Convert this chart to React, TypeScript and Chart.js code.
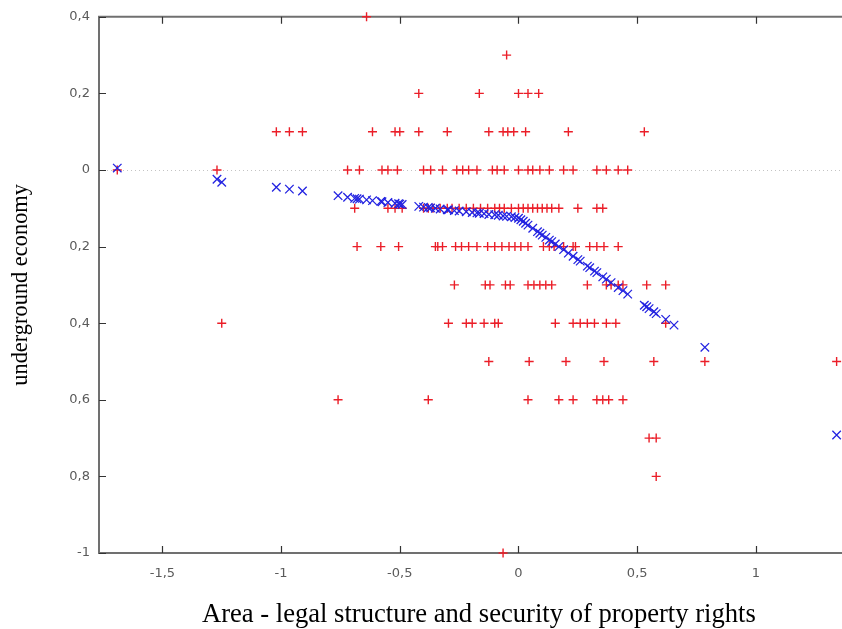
import React, { useEffect, useRef } from "react";
import { Chart, registerables } from "chart.js";

Chart.register(...registerables);

// Axis ticks
const xTickValues = [-1.5, -1, -0.5, 0, 0.5, 1];
const xTickLabels = ["-1,5", "-1", "-0,5", "0", "0,5", "1"];
const yTickValues = [-1, -0.8, -0.6, -0.4, -0.2, 0, 0.2, 0.4];
const yTickLabels = ["-1", "0,8", "0,6", "0,4", "0,2", "0", "0,2", "0,4"];

const xTitle = "Area - legal structure and security of property rights";
const yTitle = "underground economy";

// Observed values (red +): x positions grouped by underground-economy level
const obsLevels = [0.4, 0.3, 0.2, 0.1, 0, -0.1, -0.2, -0.3, -0.4, -0.5, -0.6, -0.7, -0.8, -1];
const obsAtP04 = [-0.64];
const obsAtP03 = [-0.05];
const obsAtP02 = [-0.42, -0.165, 0.0, 0.04, 0.085];
const obsAtP01 = [-1.02, -0.965, -0.91, -0.615, -0.52, -0.5, -0.42, -0.3, -0.125, -0.065, -0.045, -0.02, 0.03, 0.21, 0.53];
const obsAt0 = [-1.69, -1.27, -0.72, -0.67, -0.575, -0.55, -0.51, -0.4, -0.37, -0.32, -0.26, -0.235, -0.21, -0.175, -0.11, -0.09, -0.06, 0.0, 0.04, 0.06, 0.09, 0.13, 0.19, 0.23, 0.33, 0.37, 0.42, 0.46];
const obsAtM01 = [-0.69, -0.55, -0.52, -0.49, -0.4, -0.38, -0.36, -0.33, -0.3, -0.28, -0.25, -0.22, -0.19, -0.16, -0.13, -0.1, -0.08, -0.06, -0.03, 0.0, 0.02, 0.04, 0.06, 0.08, 0.1, 0.12, 0.14, 0.17, 0.25, 0.33, 0.355];
const obsAtM02 = [-0.68, -0.58, -0.505, -0.35, -0.34, -0.32, -0.265, -0.24, -0.21, -0.175, -0.13, -0.1, -0.07, -0.04, -0.015, 0.01, 0.04, 0.105, 0.13, 0.15, 0.19, 0.23, 0.24, 0.3, 0.33, 0.36, 0.42];
const obsAtM03 = [-0.27, -0.14, -0.12, -0.055, -0.035, 0.04, 0.065, 0.09, 0.115, 0.14, 0.29, 0.37, 0.39, 0.42, 0.44, 0.54, 0.62];
const obsAtM04 = [-1.25, -0.295, -0.22, -0.195, -0.145, -0.1, -0.085, 0.155, 0.23, 0.26, 0.29, 0.32, 0.37, 0.41, 0.62];
const obsAtM05 = [-0.125, 0.045, 0.2, 0.36, 0.57, 0.785, 1.34];
const obsAtM06 = [-0.76, -0.38, 0.04, 0.17, 0.23, 0.33, 0.355, 0.38, 0.44];
const obsAtM07 = [0.55, 0.58];
const obsAtM08 = [0.58];
const obsAtM10 = [-0.065];

const obsGroups = [
  obsAtP04, obsAtP03, obsAtP02, obsAtP01, obsAt0, obsAtM01, obsAtM02,
  obsAtM03, obsAtM04, obsAtM05, obsAtM06, obsAtM07, obsAtM08, obsAtM10,
];

// Fitted values (blue x)
const fitX = [
  -1.69, -1.27, -1.25, -1.02, -0.965, -0.91, -0.76, -0.72, -0.69, -0.68, -0.67, -0.64, -0.615,
  -0.58, -0.575, -0.55, -0.52, -0.505, -0.5, -0.49, -0.42, -0.4, -0.38, -0.37, -0.35, -0.33,
  -0.3, -0.295, -0.27, -0.25, -0.22, -0.195, -0.175, -0.165, -0.145, -0.125, -0.1, -0.085,
  -0.065, -0.05, -0.03, -0.015, 0.0, 0.01, 0.02, 0.03, 0.04, 0.06, 0.08, 0.09, 0.1, 0.115,
  0.13, 0.14, 0.155, 0.17, 0.19, 0.21, 0.23, 0.25, 0.26, 0.29, 0.3, 0.32, 0.33, 0.355, 0.37,
  0.39, 0.42, 0.44, 0.46, 0.53, 0.54, 0.55, 0.57, 0.58, 0.62, 0.655, 0.785, 1.34,
];
const fitY = [
  0.005, -0.024, -0.032, -0.045, -0.05, -0.055, -0.067, -0.071, -0.074, -0.075, -0.076, -0.078, -0.08,
  -0.082, -0.083, -0.085, -0.087, -0.088, -0.089, -0.09, -0.095, -0.097, -0.098, -0.099, -0.1, -0.102,
  -0.104, -0.104, -0.106, -0.107, -0.109, -0.111, -0.112, -0.113, -0.114, -0.116, -0.117, -0.118,
  -0.12, -0.121, -0.122, -0.124, -0.126, -0.13, -0.134, -0.139, -0.144, -0.152, -0.161, -0.165, -0.17, -0.176,
  -0.183, -0.187, -0.193, -0.2, -0.208, -0.217, -0.225, -0.234, -0.238, -0.251, -0.255, -0.264, -0.268, -0.279, -0.285,
  -0.294, -0.307, -0.315, -0.324, -0.353, -0.357, -0.362, -0.37, -0.375, -0.39, -0.405, -0.463, -0.692,
];

const X_MIN = -1.767;
const X_MAX = 1.433;
const Y_MIN = -1;
const Y_MAX = 0.4;

function labelFor(values: number[], labels: string[], v: number) {
  for (let i = 0; i < values.length; i++) {
    if (Math.abs(values[i] - v) < 1e-6) return labels[i];
  }
  return "";
}

const framePlugin = {
  id: "gnuFrame",
  beforeDatasetsDraw(chart: any) {
    const { ctx, chartArea } = chart;
    const { left, right, top, bottom } = chartArea;
    const xs = chart.scales.x;
    const ys = chart.scales.y;
    ctx.save();
    // zero axis (dotted)
    const y0 = Math.round(ys.getPixelForValue(0)) + 0.5;
    ctx.strokeStyle = "#c4c4c4";
    ctx.lineWidth = 1;
    ctx.setLineDash([1, 3]);
    ctx.beginPath();
    ctx.moveTo(left, y0);
    ctx.lineTo(right, y0);
    ctx.stroke();
    ctx.setLineDash([]);
    // top border
    ctx.strokeStyle = "#707070";
    ctx.lineWidth = 2;
    ctx.beginPath();
    ctx.moveTo(left - 1, top);
    ctx.lineTo(right, top);
    ctx.stroke();
    // inward tick marks
    ctx.strokeStyle = "#333333";
    ctx.lineWidth = 1.2;
    ctx.beginPath();
    xs.ticks.forEach((t: any) => {
      const px = Math.round(xs.getPixelForValue(t.value)) + 0.5;
      ctx.moveTo(px, bottom);
      ctx.lineTo(px, bottom - 7);
      ctx.moveTo(px, top);
      ctx.lineTo(px, top + 7);
    });
    ys.ticks.forEach((t: any) => {
      const py = Math.round(ys.getPixelForValue(t.value)) + 0.5;
      ctx.moveTo(left, py);
      ctx.lineTo(left + 7, py);
    });
    ctx.stroke();
    ctx.restore();
  },
};

export default function App() {
  const canvasRef = useRef<HTMLCanvasElement | null>(null);

  useEffect(() => {
    const canvas = canvasRef.current;
    if (!canvas) return;

    const obsData: { x: number; y: number }[] = [];
    obsGroups.forEach((group, gi) => {
      group.forEach((xv) => obsData.push({ x: xv, y: obsLevels[gi] }));
    });
    const fitData = fitX.map((xv, i) => ({ x: xv, y: fitY[i] }));

    const tickFont = { family: "'DejaVu Sans', Verdana, sans-serif", size: 13 };

    const chart = new Chart(canvas, {
      type: "scatter",
      data: {
        datasets: [
          {
            label: "fitted",
            data: fitData,
            pointStyle: "crossRot",
            pointRadius: 6,
            pointHoverRadius: 6,
            borderColor: "rgb(35,35,225)",
            backgroundColor: "rgb(35,35,225)",
            pointBorderWidth: 1.3,
            clip: false as any,
            order: 1,
          },
          {
            label: "observed",
            data: obsData,
            pointStyle: "cross",
            pointRadius: 4.5,
            pointHoverRadius: 4.5,
            borderColor: "rgb(235,30,40)",
            backgroundColor: "rgb(235,30,40)",
            pointBorderWidth: 1.4,
            clip: false as any,
            order: 2,
          },
        ],
      },
      options: {
        animation: false,
        responsive: false,
        devicePixelRatio: 1,
        layout: { padding: { top: 16, right: 0, bottom: 0, left: 0 } },
        plugins: {
          legend: { display: false },
          tooltip: { enabled: false },
        },
        scales: {
          x: {
            type: "linear",
            min: X_MIN,
            max: X_MAX,
            grid: { display: false, drawTicks: false },
            border: { display: true, color: "#707070", width: 2 },
            ticks: {
              stepSize: 0.5,
              includeBounds: false,
              autoSkip: false,
              maxRotation: 0,
              padding: 12.5,
              color: "#5a5a5a",
              font: tickFont,
              callback: (v: any) => labelFor(xTickValues, xTickLabels, Number(v)),
            },
            title: {
              display: true,
              text: xTitle,
              color: "#000",
              font: { family: "'Liberation Serif', 'Times New Roman', serif", size: 26.6, lineHeight: 1 },
              padding: { top: 0, bottom: 1 },
            },
            afterFit: (s: any) => {
              s.height = 76;
            },
          },
          y: {
            type: "linear",
            min: Y_MIN,
            max: Y_MAX,
            grid: { display: false, drawTicks: false },
            border: { display: true, color: "#707070", width: 2 },
            ticks: {
              stepSize: 0.2,
              includeBounds: false,
              autoSkip: false,
              padding: 9,
              color: "#5a5a5a",
              font: tickFont,
              callback: (v: any) => labelFor(yTickValues, yTickLabels, Number(v)),
            },
            title: {
              display: true,
              text: yTitle,
              color: "#000",
              font: { family: "'Liberation Serif', 'Times New Roman', serif", size: 22.4, lineHeight: 1.2 },
              padding: { top: 8, bottom: 0 },
            },
            afterFit: (s: any) => {
              s.width = 99;
            },
          },
        },
      },
      plugins: [framePlugin],
    });

    return () => chart.destroy();
  }, []);

  return (
    <div
      style={{
        position: "absolute",
        left: 0,
        top: 0,
        width: 842,
        height: 629,
        overflow: "hidden",
        background: "#fff",
      }}
    >
      <canvas ref={canvasRef} width={866} height={629} style={{ display: "block" }} />
    </div>
  );
}
